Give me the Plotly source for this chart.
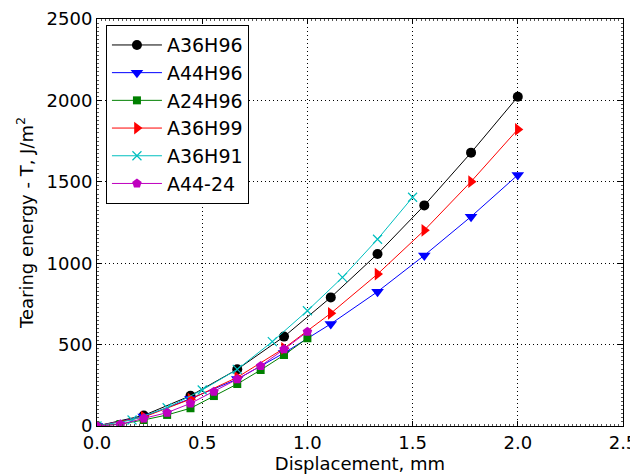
import plotly.graph_objects as go

# Displacement grids (mm)
x_ninths_2 = [0, 0.2222, 0.4444, 0.6667, 0.8889, 1.1111, 1.3333, 1.5556, 1.7778, 2.0]
x_ninths_1 = [0, 0.1111, 0.2222, 0.3333, 0.4444, 0.5556, 0.6667, 0.7778, 0.8889, 1.0]
x_sixths = [0, 0.1667, 0.3333, 0.5, 0.6667, 0.8333, 1.0, 1.1667, 1.3333, 1.5]

# Tearing energy values (J/m^2)
A36H96 = [0, 65, 186, 348, 549, 790, 1057, 1355, 1679, 2022]
A44H96 = [0, 58, 168, 288, 448, 627, 825, 1048, 1286, 1542]
A24H96 = [0, 12, 37, 68, 109, 184, 258, 344, 436, 539]
A36H99 = [0, 55, 165, 299, 477, 692, 933, 1202, 1501, 1822]
A36H91 = [0, 37, 112, 221, 348, 518, 708, 913, 1147, 1405]
A44_24 = [0, 10, 47, 82, 139, 211, 287, 369, 471, 579]

x_ticks = [0.0, 0.5, 1.0, 1.5, 2.0, 2.5]
x_tick_labels = ["0.0", "0.5", "1.0", "1.5", "2.0", "2.5"]
y_ticks = [0, 500, 1000, 1500, 2000, 2500]

series = [
    ("A36H96", x_ninths_2, A36H96, "#000000", "circle", 10),
    ("A44H96", x_ninths_2, A44H96, "#0000ff", "triangle-down", 11),
    ("A24H96", x_ninths_1, A24H96, "#008000", "square", 8),
    ("A36H99", x_ninths_2, A36H99, "#ff0000", "triangle-right", 11),
    ("A36H91", x_sixths, A36H91, "#00bfbf", "x-thin", 9),
    ("A44-24", x_ninths_1, A44_24, "#bf00bf", "pentagon", 10),
]

fig = go.Figure()
for name, xs, ys, col, sym, sz in series:
    fig.add_trace(go.Scatter(
        x=xs, y=ys, name=name, mode="lines+markers",
        line=dict(color=col, width=1),
        marker=dict(symbol=sym, size=sz, color=col,
                    line=dict(color=col, width=1.2 if sym == "x-thin" else 0)),
    ))

font = dict(family="DejaVu Sans", size=18, color="black")
axis_common = dict(
    showline=True, linecolor="black", linewidth=1, mirror="ticks",
    ticks="inside", ticklen=5, tickcolor="black",
    showgrid=True, gridcolor="black", griddash="1px,3px", gridwidth=1,
    zeroline=False, tickfont=font, automargin=False,
)
fig.update_xaxes(
    range=[0, 2.5], tickvals=x_ticks, ticktext=x_tick_labels,
    title=dict(text="Displacement, mm", font=font, standoff=2),
    minor=dict(ticks="inside", ticklen=2, dtick=0.02, tickcolor="#555555", showgrid=False),
    **axis_common,
)
fig.update_yaxes(
    range=[0, 2500], tickvals=y_ticks,
    title=dict(text="Tearing energy - T, J/m<sup>2</sup>", font=font, standoff=8),
    minor=dict(ticks="inside", ticklen=2, dtick=25, tickcolor="#555555", showgrid=False),
    **axis_common,
)
# The page adds an 8px body margin, so the figure is sized to fit the window.
fig.update_layout(
    width=630, height=467,
    margin=dict(l=89, r=15, t=11, b=49),
    paper_bgcolor="white", plot_bgcolor="white",
    font=font,
    showlegend=True,
    legend=dict(
        x=0.017, y=0.985, xanchor="left", yanchor="top",
        bgcolor="white", bordercolor="black", borderwidth=1,
        font=dict(family="DejaVu Sans", size=19, color="black"),
        tracegroupgap=0, itemwidth=50,
    ),
)
fig.write_html("out.html")
